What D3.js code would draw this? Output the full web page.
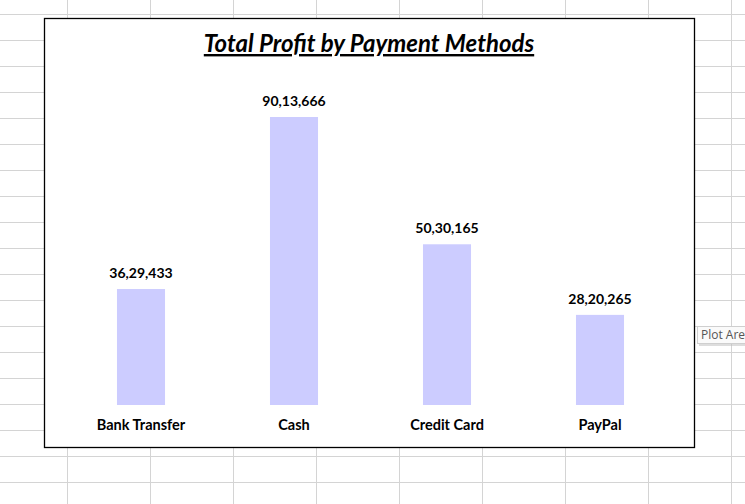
<!DOCTYPE html>
<html>
<head>
<meta charset="utf-8">
<script src="https://cdn.jsdelivr.net/npm/d3@7"></script>
<style>
  body { margin: 0; background: #fff; }
  svg { display: block; }
</style>
</head>
<body>
<div id="chart"></div>
<script>
// chart values
var methods = ["Bank Transfer", "Cash", "Credit Card", "PayPal"];
var profits = [3629433, 9013666, 5030165, 2820265];
var valueLabels = ["36,29,433", "90,13,666", "50,30,165", "28,20,265"];
var title = "Total Profit by Payment Methods";

var W = 745, H = 504;

var svg = d3.select("#chart").append("svg")
  .attr("width", W)
  .attr("height", H);

// spreadsheet gridlines behind the chart
var grid = svg.append("g").attr("class", "sheet");
grid.selectAll("line.v")
  .data(d3.range(67, W, 83))
  .enter().append("line")
    .attr("x1", d => d + 0.5).attr("x2", d => d + 0.5)
    .attr("y1", 0).attr("y2", H)
    .attr("stroke", "#d4d4d4");
grid.selectAll("line.h")
  .data(d3.range(14, H, 26))
  .enter().append("line")
    .attr("y1", d => d + 0.5).attr("y2", d => d + 0.5)
    .attr("x1", 0).attr("x2", W)
    .attr("stroke", "#d4d4d4");

// chart box
var box = {x: 44, y: 18, w: 650, h: 429};
svg.append("rect")
  .attr("x", box.x + 0.5).attr("y", box.y + 0.5)
  .attr("width", box.w).attr("height", box.h)
  .attr("fill", "#fff")
  .attr("stroke", "#000")
  .attr("stroke-width", 1.3);

svg.append("text")
  .attr("x", 369)
  .attr("y", 52)
  .attr("text-anchor", "middle")
  .style("font-family", "Lato, sans-serif")
  .style("font-weight", "bold")
  .style("font-style", "italic")
  .style("font-size", "24px")
  .style("text-decoration", "underline")
  .attr("fill", "#000")
  .text(title);

// scales
var x = d3.scaleBand()
  .domain(methods)
  .range([64.5, 676.5])
  .paddingInner(0.686)
  .paddingOuter(0.343);

var y = d3.scaleLinear()
  .domain([0, 9013666])
  .range([405, 117]);

var plot = svg.append("g");

plot.selectAll("rect.bar")
  .data(methods)
  .enter().append("rect")
    .attr("class", "bar")
    .attr("x", d => x(d))
    .attr("width", x.bandwidth())
    .attr("y", (d, i) => y(profits[i]))
    .attr("height", (d, i) => y(0) - y(profits[i]))
    .attr("fill", "#ccccff");

plot.selectAll("text.val")
  .data(methods)
  .enter().append("text")
    .attr("class", "val")
    .attr("x", d => x(d) + x.bandwidth() / 2)
    .attr("y", (d, i) => y(profits[i]) - 11)
    .attr("text-anchor", "middle")
    .style("font-family", "Lato, sans-serif")
    .style("font-weight", "bold")
    .style("font-size", "14px")
    .attr("fill", "#000")
    .text((d, i) => valueLabels[i]);

var xAxis = d3.axisBottom(x).tickSize(0).tickPadding(0);
var ax = svg.append("g")
  .attr("transform", "translate(0,420)")
  .call(xAxis);
ax.select(".domain").remove();
ax.selectAll("text")
  .style("font-family", "Lato, sans-serif")
  .style("font-weight", "bold")
  .style("font-size", "14.5px")
  .attr("fill", "#000");

// hover tooltip seen in the screenshot
var tip = svg.append("g").attr("transform", "translate(697,326)");
tip.append("rect")
  .attr("x", 2).attr("y", 2)
  .attr("width", 60).attr("height", 18)
  .attr("fill", "#bbb").attr("opacity", 0.5);
tip.append("rect")
  .attr("x", 0.5).attr("y", 0.5)
  .attr("width", 60).attr("height", 17)
  .attr("fill", "#fafafa")
  .attr("stroke", "#cfcfcf");
tip.append("text")
  .attr("x", 4).attr("y", 13)
  .style("font-family", "'Open Sans', sans-serif")
  .style("font-size", "12px")
  .attr("fill", "#555")
  .text("Plot Area");
</script>
</body>
</html>
